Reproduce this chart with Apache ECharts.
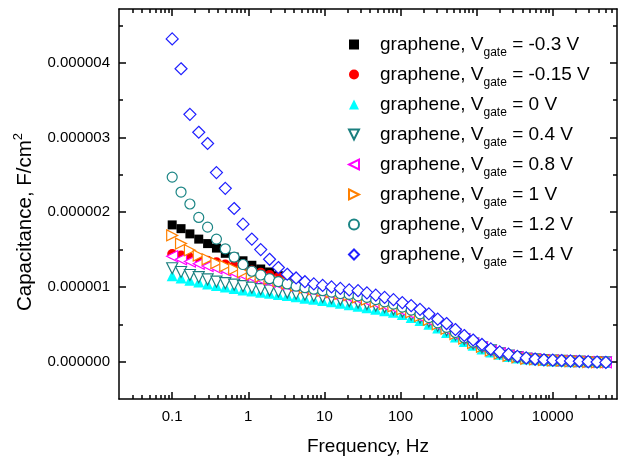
<!DOCTYPE html>
<html>
<head>
<meta charset="utf-8">
<script src="https://cdn.jsdelivr.net/npm/echarts@6/dist/echarts.min.js"></script>
<style>
  html, body { margin: 0; padding: 0; background: #fff; }
  #chart { width: 624px; height: 457px; }
</style>
</head>
<body>
<div id="chart"></div>
<script>
// frequency points (Hz)
const freq = [0.1, 0.1307, 0.1709, 0.2233, 0.2919, 0.3815, 0.4986, 0.6518, 0.852, 1.114,
  1.456, 1.903, 2.487, 3.251, 4.249, 5.554, 7.26, 9.49, 12.4, 16.21,
  21.19, 27.7, 36.22, 47.33, 61.86, 80.86, 105.7, 138.2, 180.5, 236,
  308.5, 403.2, 527, 688.9, 900.4, 1177, 1538, 2011, 2628, 3436,
  4491, 5870, 7673, 10030, 13110, 17130, 22400, 29270, 38260, 50000]

// capacitance, in units of 1e-6 F/cm2
const capM03 = [1.83, 1.78, 1.71, 1.64, 1.58, 1.52, 1.45, 1.40, 1.35, 1.29,
  1.24, 1.20, 1.15, 1.11, 1.06, 1.01, 0.97, 0.94, 0.92, 0.90,
  0.87, 0.85, 0.83, 0.80, 0.77, 0.74, 0.70, 0.66, 0.61, 0.56,
  0.50, 0.44, 0.37, 0.31, 0.25, 0.20, 0.15, 0.11, 0.08, 0.06,
  0.04, 0.03, 0.02, 0.015, 0.01, 0.005, 0, -0.005, -0.01, -0.01]
const capM015 = [1.44, 1.42, 1.39, 1.37, 1.35, 1.33, 1.30, 1.28, 1.25, 1.22,
  1.19, 1.16, 1.13, 1.10, 1.06, 1.02, 0.98, 0.95, 0.92, 0.90,
  0.87, 0.85, 0.82, 0.80, 0.77, 0.73, 0.70, 0.66, 0.61, 0.55,
  0.49, 0.43, 0.37, 0.30, 0.25, 0.19, 0.15, 0.11, 0.08, 0.06,
  0.04, 0.03, 0.02, 0.015, 0.01, 0.005, 0, -0.005, -0.01, -0.01]
const cap0 = [1.15, 1.12, 1.09, 1.065, 1.04, 1.02, 1.00, 0.98, 0.96, 0.945,
  0.93, 0.915, 0.90, 0.885, 0.87, 0.85, 0.835, 0.82, 0.80, 0.78,
  0.76, 0.74, 0.72, 0.70, 0.68, 0.66, 0.63, 0.59, 0.55, 0.50,
  0.45, 0.39, 0.33, 0.27, 0.22, 0.17, 0.13, 0.10, 0.07, 0.05,
  0.035, 0.025, 0.015, 0.01, 0.005, 0, 0, -0.005, -0.01, -0.01]
const cap04 = [1.25, 1.20, 1.16, 1.13, 1.10, 1.07, 1.05, 1.03, 1.01, 0.99,
  0.97, 0.955, 0.94, 0.925, 0.91, 0.895, 0.88, 0.865, 0.85, 0.83,
  0.81, 0.79, 0.77, 0.75, 0.73, 0.70, 0.67, 0.63, 0.59, 0.54,
  0.48, 0.42, 0.36, 0.30, 0.24, 0.19, 0.15, 0.11, 0.08, 0.06,
  0.04, 0.03, 0.02, 0.015, 0.01, 0.005, 0, -0.005, -0.01, -0.01]
const cap08 = [1.41, 1.37, 1.34, 1.31, 1.28, 1.25, 1.22, 1.19, 1.16, 1.13,
  1.10, 1.07, 1.04, 1.02, 1.00, 0.97, 0.95, 0.93, 0.91, 0.89,
  0.86, 0.84, 0.81, 0.78, 0.75, 0.72, 0.68, 0.64, 0.60, 0.55,
  0.49, 0.43, 0.36, 0.30, 0.24, 0.19, 0.14, 0.11, 0.08, 0.06,
  0.04, 0.03, 0.02, 0.015, 0.01, 0.005, 0, -0.005, -0.01, -0.01]
const cap1 = [1.69, 1.58, 1.49, 1.42, 1.37, 1.32, 1.28, 1.24, 1.20, 1.17,
  1.14, 1.11, 1.08, 1.05, 1.02, 0.99, 0.97, 0.95, 0.93, 0.91,
  0.89, 0.86, 0.83, 0.80, 0.77, 0.74, 0.70, 0.66, 0.61, 0.56,
  0.50, 0.44, 0.37, 0.31, 0.25, 0.20, 0.15, 0.11, 0.08, 0.06,
  0.04, 0.03, 0.02, 0.015, 0.01, 0.005, 0, -0.005, -0.01, -0.01]
const cap12 = [2.47, 2.27, 2.11, 1.93, 1.80, 1.64, 1.51, 1.40, 1.30, 1.21,
  1.16, 1.11, 1.07, 1.04, 1.01, 0.99, 0.97, 0.95, 0.93, 0.91,
  0.90, 0.88, 0.86, 0.83, 0.80, 0.77, 0.73, 0.69, 0.64, 0.59,
  0.52, 0.46, 0.39, 0.32, 0.26, 0.21, 0.16, 0.12, 0.09, 0.06,
  0.045, 0.03, 0.02, 0.015, 0.01, 0.005, 0, -0.005, -0.01, -0.01]
const cap14 = [4.32, 3.92, 3.31, 3.07, 2.92, 2.53, 2.32, 2.05, 1.84, 1.64,
  1.50, 1.37, 1.26, 1.17, 1.12, 1.07, 1.04, 1.02, 1.00, 0.98,
  0.96, 0.95, 0.92, 0.89, 0.86, 0.83, 0.79, 0.75, 0.70, 0.64,
  0.57, 0.51, 0.43, 0.35, 0.29, 0.23, 0.17, 0.13, 0.10, 0.07,
  0.05, 0.035, 0.025, 0.02, 0.015, 0.01, 0.005, 0, -0.005, -0.01]

const gateLabels = ['-0.3', '-0.15', '0', '0.4', '0.8', '1', '1.2', '1.4']
const xMajorTicks = [0.1, 1, 10, 100, 1000, 10000]
const xMinorTicks = [0.03, 0.04, 0.05, 0.06, 0.07, 0.08, 0.09,
  0.2, 0.3, 0.4, 0.5, 0.6, 0.7, 0.8, 0.9,
  2, 3, 4, 5, 6, 7, 8, 9,
  20, 30, 40, 50, 60, 70, 80, 90,
  200, 300, 400, 500, 600, 700, 800, 900,
  2000, 3000, 4000, 5000, 6000, 7000, 8000, 9000,
  20000, 30000, 40000, 50000, 60000]
const yMajorTicks = [0, 1, 2, 3, 4]
const yMinorTicks = [0.5, 1.5, 2.5, 3.5, 4.5]

const FONT = '"Liberation Sans", Arial, sans-serif'
const AXIS_COLOR = '#000'

// triangle outlines pointing down / left / right
const TRI_DOWN = 'path://M0,0L2,0L1,2Z'
const TRI_LEFT = 'path://M2,0L2,2L0,1Z'
const TRI_RIGHT = 'path://M0,0L2,1L0,2Z'

const seriesStyles = [
  { symbol: 'rect', size: 9, color: '#000000', hollow: false },
  { symbol: 'circle', size: 10, color: '#ff0000', hollow: false },
  { symbol: 'triangle', size: 11, color: '#00ffff', hollow: false },
  { symbol: TRI_DOWN, size: 11, color: '#1b7f7f', hollow: true },
  { symbol: TRI_LEFT, size: 11, color: '#ff00ff', hollow: true },
  { symbol: TRI_RIGHT, size: 11, color: '#ff8000', hollow: true },
  { symbol: 'circle', size: 10, color: '#1b8585', hollow: true },
  { symbol: 'diamond', size: 12, color: '#1f1fff', hollow: true }
]
const capSeries = [capM03, capM015, cap0, cap04, cap08, cap1, cap12, cap14]

const seriesName = g => 'graphene, Vgate = ' + g + ' V'

const chart = echarts.init(document.getElementById('chart'), null, { renderer: 'canvas' })

function xAxisDef(position, ticks, len, showLine, showLabel) {
  return {
    type: 'log',
    position,
    min: 0.02,
    max: 70000,
    axisLine: { show: showLine, onZero: false, lineStyle: { color: AXIS_COLOR, width: 1.5 } },
    axisTick: { show: true, inside: true, length: len, customValues: ticks, lineStyle: { color: AXIS_COLOR, width: 1.5 } },
    axisLabel: showLabel ? {
      customValues: xMajorTicks,
      margin: 10,
      fontSize: 15,
      fontFamily: FONT,
      color: '#000',
      formatter: v => v < 1 ? v.toFixed(1) : String(Math.round(v))
    } : { show: false },
    splitLine: { show: false },
    minorTick: { show: false }
  }
}

function yAxisDef(position, ticks, len, showLine, showLabel) {
  return {
    type: 'value',
    position,
    min: -0.5,
    max: 4.72,
    axisLine: { show: showLine, onZero: false, lineStyle: { color: AXIS_COLOR, width: 1.5 } },
    axisTick: { show: true, inside: true, length: len, customValues: ticks, lineStyle: { color: AXIS_COLOR, width: 1.5 } },
    axisLabel: showLabel ? {
      customValues: yMajorTicks,
      margin: 9,
      fontSize: 15,
      fontFamily: FONT,
      color: '#000',
      formatter: v => (v * 1e-6).toFixed(6)
    } : { show: false },
    splitLine: { show: false }
  }
}

const xMain = xAxisDef('bottom', xMajorTicks, 7, true, true)
xMain.name = 'Frequency, Hz'
xMain.nameLocation = 'middle'
xMain.nameGap = 38
xMain.nameTextStyle = { fontSize: 19, fontFamily: FONT, color: '#000' }

const yMain = yAxisDef('left', yMajorTicks, 7, true, true)
yMain.name = 'Capacitance, F/cm{sup|2}'
yMain.nameLocation = 'middle'
yMain.nameGap = 81
yMain.nameTextStyle = {
  fontSize: 20.5, fontFamily: FONT, color: '#000',
  padding: [0, 36, 0, 0],
  rich: { sup: { fontSize: 13, fontFamily: FONT, color: '#000', padding: [0, 0, 13, 0] } }
}

const series = capSeries.map((vals, i) => {
  const st = seriesStyles[i]
  return {
    name: seriesName(gateLabels[i]),
    type: 'scatter',
    xAxisIndex: 0,
    yAxisIndex: 0,
    symbol: st.symbol,
    symbolSize: st.size,
    itemStyle: st.hollow
      ? { color: '#ffffff', borderColor: st.color, borderWidth: 1.2, opacity: 1 }
      : { color: st.color, borderWidth: 0, opacity: 1 },
    emphasis: { disabled: true },
    data: freq.map((f, j) => [f, vals[j]])
  }
})

const legendRich = {
  p: { fontSize: 19, fontFamily: FONT, color: '#000', padding: [0, 0, 0, 16] },
  n: { fontSize: 19, fontFamily: FONT, color: '#000' },
  s: { fontSize: 12, fontFamily: FONT, color: '#000', padding: [16, 0, 0, 0] }
}

chart.setOption({
  animation: false,
  backgroundColor: '#fff',
  grid: { left: 119, right: 7, top: 9, bottom: 58, containLabel: false, outerBoundsMode: 'none' },
  legend: {
    orient: 'vertical',
    left: 343,
    top: 30,
    itemWidth: 10,
    itemHeight: 10,
    itemGap: 6.5,
    selectedMode: false,
    data: gateLabels.map(seriesName),
    textStyle: { fontSize: 19, fontFamily: FONT, color: '#000', rich: legendRich },
    formatter: name => {
      const g = gateLabels.find(x => seriesName(x) === name)
      return '{p|graphene, V}{s|gate}{n| = ' + g + ' V}'
    }
  },
  xAxis: [
    xMain,
    xAxisDef('bottom', xMinorTicks, 4, false, false),
    xAxisDef('top', xMajorTicks, 7, true, false),
    xAxisDef('top', xMinorTicks, 4, false, false)
  ],
  yAxis: [
    yMain,
    yAxisDef('left', yMinorTicks, 4, false, false),
    yAxisDef('right', yMajorTicks, 7, true, false),
    yAxisDef('right', yMinorTicks, 4, false, false)
  ],
  series
})
</script>
</body>
</html>
